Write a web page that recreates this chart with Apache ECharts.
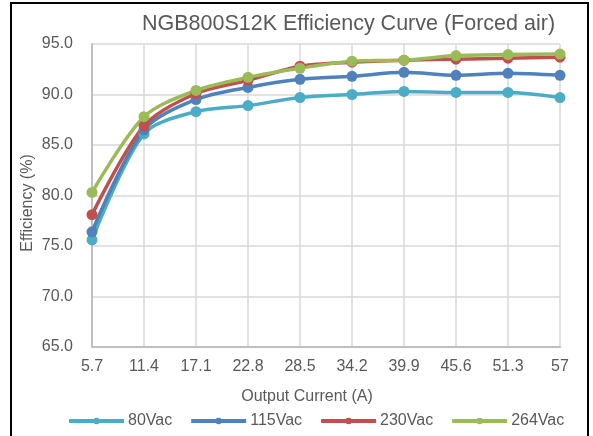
<!DOCTYPE html>
<html><head><meta charset="utf-8">
<script src="https://cdn.jsdelivr.net/npm/echarts@6/dist/echarts.min.js"></script>
<style>html,body{margin:0;padding:0;background:#fff}#c{width:593px;height:436px}</style>
</head><body><div id="c"></div>
<script>
const categories = ["5.7","11.4","17.1","22.8","28.5","34.2","39.9","45.6","51.3","57"];
const v80  = [75.6, 86.1, 88.3, 88.9, 89.7, 90.0, 90.3, 90.2, 90.2, 89.7];
const v115 = [76.4, 86.5, 89.5, 90.7, 91.5, 91.8, 92.2, 91.9, 92.1, 91.9];
const v230 = [78.1, 86.9, 90.1, 91.4, 92.8, 93.2, 93.4, 93.5, 93.6, 93.7];
const v264 = [80.3, 87.8, 90.4, 91.7, 92.6, 93.3, 93.4, 93.85, 93.95, 94.0];
const names = ["80Vac","115Vac","230Vac","264Vac"];
const colors = ["#4BACC6","#4F81BD","#C0504D","#9BBB59"];
const values = [v80, v115, v230, v264];
const font = "'Liberation Sans', Arial, sans-serif";
const chart = echarts.init(document.getElementById('c'));
chart.setOption({
  animation: false,
  textStyle: {fontFamily: font},
  title: {text: "NGB800S12K Efficiency Curve (Forced air)", left: 142, top: 13, padding: 0,
    textStyle: {fontFamily: font, fontSize: 21.5, fontWeight: 'normal', color: '#595959'}},
  grid: {left: 92, right: 33, top: 44, bottom: 89},
  legend: {left: 67, top: 413, padding: 0, itemWidth: 55, itemHeight: 8, itemGap: 17,
    lineStyle: {width: 4},
    textStyle: {fontFamily: font, fontSize: 16, color: '#595959', padding: [0,0,0,-1]},
    data: names},
  graphic: [
    {type: 'rect', shape: {x: 11, y: 3, width: 577, height: 445},
     style: {fill: 'none', stroke: '#000', lineWidth: 2}, silent: true},
    {type: 'text', x: 307, y: 397, style: {text: 'Output Current (A)', font: "16px 'Liberation Sans', Arial", fill: '#595959', align: 'center', verticalAlign: 'middle'}},
    {type: 'text', x: 28, y: 203, rotation: Math.PI/2, style: {text: 'Efficiency (%)', font: "16px 'Liberation Sans', Arial", fill: '#595959', align: 'center', verticalAlign: 'middle'}}
  ],
  xAxis: {type: 'category', data: categories, boundaryGap: false,
    axisLine: {lineStyle: {color: '#BFBFBF', width: 2}},
    axisTick: {show: false},
    axisLabel: {color: '#595959', fontSize: 16, margin: 12, fontFamily: font},
    splitLine: {show: true, lineStyle: {color: '#D9D9D9', width: 1.5}}},
  yAxis: {type: 'value', min: 65, max: 95, interval: 5,
    axisLine: {show: true, lineStyle: {color: '#BFBFBF', width: 2}},
    axisTick: {show: false},
    axisLabel: {color: '#595959', fontSize: 16, margin: 19, fontFamily: font, formatter: v => v.toFixed(1)},
    splitLine: {show: true, lineStyle: {color: '#D9D9D9', width: 1.5}}},
  series: values.map((d, i) => ({
    name: names[i], type: 'line', data: d, smooth: 0.3,
    symbol: 'circle', symbolSize: 11,
    lineStyle: {width: 3.5, color: colors[i]},
    itemStyle: {color: colors[i]}
  }))
});
</script></body></html>
